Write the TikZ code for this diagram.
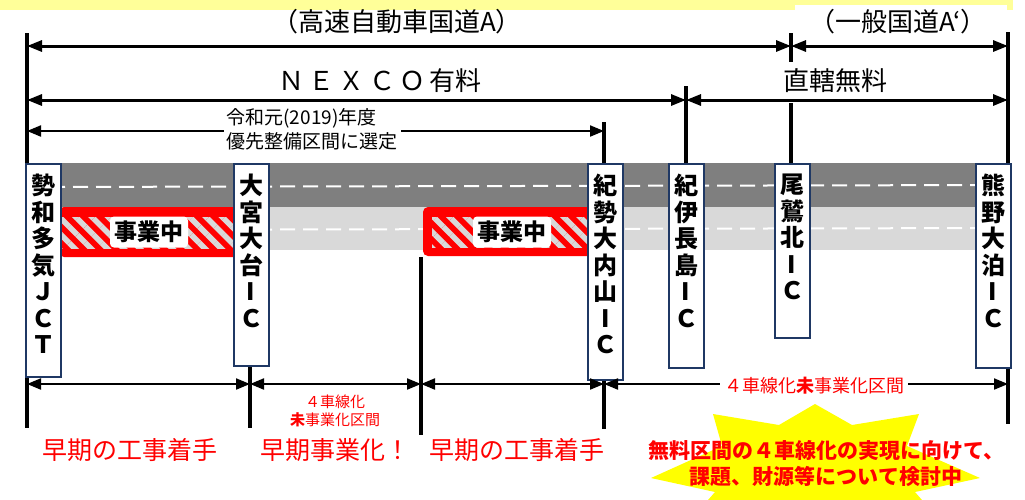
\documentclass[tikz,border=0pt]{standalone}
\usepackage{fontspec}
\setmainfont{Noto Sans CJK JP}
\usetikzlibrary{arrows.meta,patterns.meta}

\definecolor{bandyellow}{HTML}{FFFF99}
\definecolor{staryellow}{HTML}{FFFF00}
\definecolor{roaddark}{HTML}{7F7F7F}
\definecolor{roadlight}{HTML}{D9D9D9}
\definecolor{icblue}{HTML}{1F3864}

\begin{document}
\begin{tikzpicture}[x=1pt,y=-1pt,
    ic/.style={draw=icblue,line width=2pt,fill=white,minimum width=35pt,inner sep=0pt,anchor=north},
    ictext/.style={anchor=north,align=center,inner sep=0pt,yshift=-11pt,font=\bfseries\fontsize{24}{26.5}\selectfont},
    busy/.style={fill=white,rounded corners=4pt,minimum width=78pt,minimum height=31pt,inner sep=0pt,font=\bfseries\fontsize{23}{26}\selectfont},
    toplabel/.style={inner sep=2pt,font=\fontsize{26}{30}\selectfont},
    redlabel/.style={text=red,inner sep=0pt,font=\fontsize{25}{28}\selectfont},
    dim/.style={<->,>={Triangle[length=15pt,width=11pt]},line width=3pt},
    thindim/.style={<->,>={Triangle[length=14pt,width=11pt]},line width=2pt},
    vline/.style={line width=4pt},
    hatch/.style={pattern={Lines[angle=-45,distance=11.5pt,line width=5.5pt]},pattern color=roadlight},
  ]
  \useasboundingbox (0,0) rectangle (1025,499);
  \clip (0,0) rectangle (1025,499);

  %band
  \fill[bandyellow] (0,0) rectangle (1013,10);
  \fill[white] (795,5) rectangle (1007,12);

  %road
  \fill[roaddark] (27,163) rectangle (1010,207);
  \fill[roadlight] (27,207) rectangle (1010,250);
  \draw[white,line width=2pt,dash pattern=on 15pt off 8pt] (27,187) -- (1010,185);
  \draw[white,line width=2pt,dash pattern=on 15pt off 8pt] (27,230) -- (1010,228);

  %works
  \fill[red,rounded corners=4pt] (60,207) rectangle (245,257);
  \fill[hatch] (61,217) rectangle (245,248);
  \fill[red,rounded corners=5pt] (423,207) rectangle (600,256);
  \fill[hatch] (432,217) rectangle (600,247);
  \node[busy] (busy1) at (149,232) {事業中};
  \node[busy] (busy2) at (512,232) {事業中};

  %section points
  \coordinate (jctT) at (27,33);   \coordinate (jctB) at (27,428);
  \coordinate (endT) at (1008,32); \coordinate (endB) at (1008,424);
  \coordinate (owT) at (791,33);   \coordinate (owM) at (791,62);
  \coordinate (owL) at (791,103);  \coordinate (owB) at (791,163);
  \coordinate (kiT) at (686,86);   \coordinate (kiB) at (686,163);
  \coordinate (ksT) at (604,122);  \coordinate (ksB) at (604,163);
  \coordinate (ksL) at (604,375);  \coordinate (ksE) at (604,429);
  \coordinate (omT) at (250,365);  \coordinate (omB) at (250,428);
  \coordinate (midT) at (421,257); \coordinate (midB) at (421,435);

  \draw[vline] (jctT) -- (jctB);
  \draw[vline] (endT) -- (endB);
  \draw[vline] (owT) -- (owM);
  \draw[vline] (owL) -- (owB);
  \draw[vline] (kiT) -- (kiB);
  \draw[vline] (ksT) -- (ksB);
  \draw[vline] (ksL) -- (ksE);
  \draw[vline] (omT) -- (omB);
  \draw[vline] (midT) -- (midB);

  %interchanges
  \node[ic,minimum height=213pt,label={[ictext]north:{勢\\和\\多\\気\\Ｊ\\Ｃ\\Ｔ}}] (jct) at (43,163) {};
  \node[ic,minimum height=202pt,label={[ictext]north:{大\\宮\\大\\台\\I\\Ｃ}}] (oomiya) at (251,163) {};
  \node[ic,minimum height=216pt,label={[ictext]north:{紀\\勢\\大\\内\\山\\I\\Ｃ}}] (kisei) at (605.5,163) {};
  \node[ic,minimum height=204pt,label={[ictext]north:{紀\\伊\\長\\島\\I\\Ｃ}}] (kii) at (686,163) {};
  \node[ic,minimum height=174pt,label={[ictext]north:{尾\\鷲\\北\\I\\Ｃ}}] (owase) at (792,163) {};
  \node[ic,minimum height=204pt,label={[ictext]north:{熊\\野\\大\\泊\\I\\Ｃ}}] (kumano) at (993,163) {};

  %top labels
  \node[toplabel] (hwy) at (397,22) {（高速自動車国道A）};
  \node[toplabel] (gen) at (898,22) {（一般国道A‘）};
  \node[toplabel] (nexco) at (380,81) {Ｎ\,Ｅ\,Ｘ\,Ｃ\,Ｏ\,有料};
  \node[toplabel] (direct) at (835,81) {直轄無料};

  %spans
  \draw[dim] (27,46) -- (791,46);
  \draw[dim] (791,46) -- (1008,46);
  \draw[dim] (27,100) -- (686,100);
  \draw[dim] (686,100) -- (1008,100);
  \draw[thindim] (27,131) -- (604,131);
  \node[fill=white,align=left,inner sep=3pt,font=\fontsize{19}{24}\selectfont] (prio) at (312,129) {令和元(2019)年度\\優先整備区間に選定};

  %bottom spans
  \draw[thindim] (27,384) -- (250,384);
  \draw[thindim] (250,384) -- (421,384);
  \draw[thindim] (421,384) -- (604,384);
  \draw[thindim] (604,384) -- (1008,384);
  \node[fill=white,text=red,inner sep=4pt,font=\fontsize{18}{20}\selectfont] (unfunded) at (814,386) {４車線化\textbf{未}事業化区間};
  \node[text=red,align=center,inner sep=0pt,font=\fontsize{15}{18}\selectfont] (unfunded2) at (335,411) {４車線化\\\textbf{未}事業化区間};

  \node[redlabel] (early1) at (130,450) {早期の工事着手};
  \node[redlabel] (early2) at (335,450) {早期事業化！};
  \node[redlabel] (early3) at (517,450) {早期の工事着手};

  %star
  \fill[staryellow] (815,404) -- (852,425) -- (919,414) -- (907,446) -- (980,478)
    -- (915,492) -- (935,515) -- (870,505) -- (815,530) -- (760,505) -- (695,515)
    -- (715,492) -- (651,478) -- (722,446) -- (713,414) -- (779,425) -- cycle;
  \node[text=red,align=center,inner sep=0pt,font=\bfseries\fontsize{21}{26}\selectfont] (study) at (826,464) {無料区間の４車線化の実現に向けて、\\課題、財源等について検討中};
\end{tikzpicture}
\end{document}
